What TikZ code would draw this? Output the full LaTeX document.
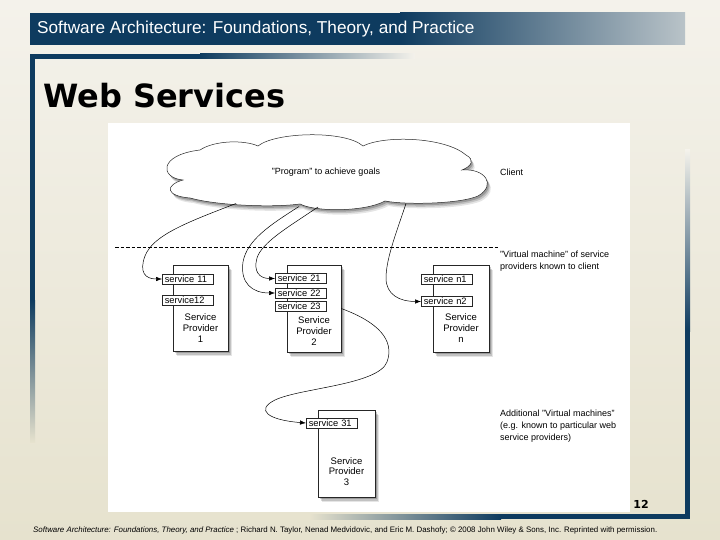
\documentclass[tikz,border=0pt]{standalone}
\usepackage{fontspec}
\setmainfont{Liberation Sans}
\newfontfamily\titlefont{DejaVu Sans}
\usetikzlibrary{arrows.meta,shadows,calc}
\definecolor{navy}{HTML}{0E3B5F}
\definecolor{bgtop}{HTML}{F4F2EB}
\definecolor{bgbot}{HTML}{E6E2CE}
\definecolor{barlight}{HTML}{B9C3C8}
\tikzset{
  softshadow/.style={
    general shadow={fill=black,opacity=0.10,shadow xshift=3.5pt,shadow yshift=-5pt},
    general shadow={fill=black,opacity=0.15,shadow xshift=2.5pt,shadow yshift=-3.5pt},
    general shadow={fill=black,opacity=0.20,shadow xshift=1.5pt,shadow yshift=-2pt}},
  provider/.style={draw=black!85,fill=white,line width=0.5pt,inner sep=0pt,softshadow},
  svc/.style={draw=black!85,fill=white,line width=0.5pt,anchor=west,minimum height=10pt,
    text width=46pt,inner xsep=2.5pt,inner ysep=0pt,align=left,font=\fontsize{9.3}{10}\selectfont},
  ptext/.style={align=center,font=\fontsize{9.5}{10.8}\selectfont,inner sep=0pt},
  dtext/.style={align=left,font=\fontsize{9}{11.8}\selectfont,inner sep=0pt},
  conn/.style={line width=0.5pt,-{Latex[length=6pt,width=4.5pt]}}
}
\begin{document}
\begin{tikzpicture}[x=1pt,y=-1pt]
\useasboundingbox (0,0) rectangle (720,540);
% background
\shade[top color=bgtop,bottom color=bgbot] (0,0) rectangle (720,540);
% header bar
\fill[navy] (30,13) rectangle (401,45);
\shade[left color=navy,right color=barlight] (400,13) rectangle (685,45);
\node[anchor=west,text=white,font=\fontsize{17.2}{17}\selectfont,inner sep=0pt] (hdr) at (37,29.5)
  {Software Architecture: Foundations, Theory, and Practice};
% decorative bars
\fill[navy] (30,54) rectangle (201,59);
\shade[left color=navy,right color=bgtop] (200,54) rectangle (415,59);
\fill[navy] (30,54) rectangle (35,301);
\shade[top color=navy,bottom color=bgbot] (30,300) rectangle (35,442);
\shade[top color=bgtop,bottom color=navy] (685,150) rectangle (690,331);
\fill[navy] (685,330) rectangle (690,519);
\shade[left color=bgbot,right color=navy] (310,514) rectangle (501,519);
\fill[navy] (500,514) rectangle (690,519);
% title
\node[anchor=base west,inner sep=0pt,font=\titlefont\bfseries\fontsize{32}{32}\selectfont] (title) at (43,108) {Web Services};
% white panel
\fill[white] (108,123) rectangle (630,512);
% cloud
\path[draw=black!85,fill=white,line width=0.5pt,softshadow]
  (183,180) .. controls (160,178) and (158,155) .. (200,150)
  .. controls (215,140) and (245,140) .. (258,146)
  .. controls (275,132) and (345,130) .. (363,146)
  .. controls (385,135) and (445,137) .. (466,155)
  .. controls (475,160) and (472,166) .. (462,170)
  .. controls (485,168) and (497,185) .. (478,196)
  .. controls (460,204) and (405,205) .. (385,201)
  .. controls (365,212) and (315,212) .. (300,204)
  .. controls (270,208) and (215,205) .. (190,198)
  .. controls (165,196) and (165,185) .. (183,180) -- cycle;
\node[dtext] (prog) at (326,172.5) {"Program" to achieve goals};
\coordinate (c1) at (236,203.5);
\coordinate (c2) at (299,206.5);
\coordinate (c3) at (318,207);
\coordinate (c4) at (406,203.5);
% labels
\node[dtext,anchor=west] (client) at (500,172) {Client};
\node[dtext,anchor=north west] (vm) at (500,251) {"Virtual machine" of service\\providers known to client};
\node[dtext,anchor=north west] (add) at (500,410) {Additional "Virtual machines"\\(e.g. known to particular web\\service providers)};
% dashed line
\coordinate (dl) at (115,247);
\coordinate (dr) at (498,247);
\draw[line width=0.6pt,dash pattern=on 3.5pt off 2pt] (dl) -- (dr);
% providers
\node[provider,minimum width=55pt,minimum height=86pt] (p1) at (200.5,308) {};
\node[provider,minimum width=54pt,minimum height=87pt] (p2) at (314,308.5) {};
\node[provider,minimum width=56pt,minimum height=87pt] (pn) at (461,308.5) {};
\node[provider,minimum width=57pt,minimum height=87pt] (p3) at (346.5,453.5) {};
\node[ptext] (t1) at (200.5,328) {Service\\Provider\\1};
\node[ptext] (t2) at (314,331) {Service\\Provider\\2};
\node[ptext] (tn) at (461,328) {Service\\Provider\\n};
\node[ptext] (t3) at (346.5,471.5) {Service\\Provider\\3};
% services
\node[svc] (s11) at (162,279) {service 11};
\node[svc] (s12) at (162,300.5) {service12};
\node[svc] (s21) at (275,278.5) {service 21};
\node[svc] (s22) at (275,293) {service 22};
\node[svc] (s23) at (275,306) {service 23};
\node[svc] (sn1) at (421,279.5) {service n1};
\node[svc] (sn2) at (421,301.5) {service n2};
\node[svc] (s31) at (306,423) {service 31};
% connectors
\draw[conn] (c1) .. controls (188,222) and (153,235) .. (145,256) .. controls (139,272) and (145,279) .. (s11.west);
\draw[conn] (c2) .. controls (270,225) and (247,240) .. (243,262) .. controls (240,283) and (252,293) .. (s22.west);
\draw[conn] (c3) .. controls (290,226) and (262,242) .. (257,258) .. controls (253,272) and (260,278.5) .. (s21.west);
\draw[conn] (c4) .. controls (398,228) and (386,258) .. (386,278) .. controls (386,295) and (400,301.5) .. (sn2.west);
\draw[conn] (p2.east) .. controls (378,322) and (395,340) .. (387,362) .. controls (378,385) and (300,388) .. (275,400) .. controls (255,410) and (268,420) .. (s31.west);
% page number and footer
\node[font=\titlefont\bfseries\fontsize{11}{11}\selectfont,inner sep=0pt] (pg) at (641,504) {12};
\node[anchor=west,inner sep=0pt,font=\fontsize{7.9}{8}\selectfont] (foot) at (33,530)
  {\textit{Software Architecture: Foundations, Theory, and Practice} ; Richard N. Taylor, Nenad Medvidovic, and Eric M. Dashofy; © 2008 John Wiley \& Sons, Inc. Reprinted with permission.};
\end{tikzpicture}
\end{document}
